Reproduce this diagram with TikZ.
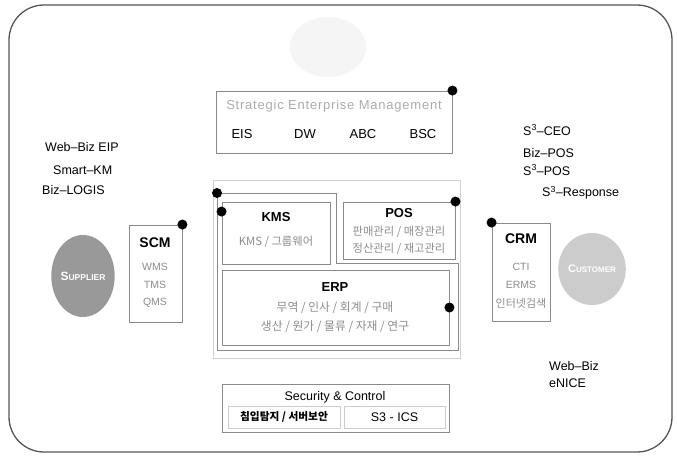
\documentclass[tikz,border=0pt]{standalone}
\usepackage{fontspec}
\setmainfont{Liberation Sans}
\newfontfamily\kr{Noto Sans CJK KR}
\usetikzlibrary{shapes.geometric}
\definecolor{frameline}{HTML}{555555}
\definecolor{boxline}{HTML}{8A8A8A}
\definecolor{softtext}{HTML}{8C8C8C}
\definecolor{paletext}{HTML}{ABABAB}
\tikzset{
  box/.style={draw=boxline, line width=0.9pt, inner sep=0pt},
  dot/.style={circle, fill=black, inner sep=0pt, minimum size=10pt},
  head/.style={font=\bfseries\fontsize{13}{15}\selectfont},
  item/.style={text=softtext, font=\fontsize{10.5}{12}\selectfont},
  kritem/.style={text=softtext, font=\kr\fontsize{11.3}{13}\selectfont},
  side/.style={anchor=west, inner sep=0pt, font=\fontsize{12.5}{14}\selectfont},
  party/.style={ellipse, inner sep=0pt, text=white, font=\bfseries}
}
\begin{document}
\begin{tikzpicture}[x=1pt, y=-1pt]
\useasboundingbox (0,0) rectangle (677,455);
\draw[frameline, line width=1.3pt, rounded corners=35pt] (9,5) rectangle (672,452);
% top management
\node[ellipse, fill=black!4, minimum width=76, minimum height=60] (top) at (328,47) {};
\node[box, minimum width=236, minimum height=62] (sem) at (334,122) {};
\node[text=paletext, font=\fontsize{13}{15}\selectfont\addfontfeature{LetterSpace=6}] (semtitle) at (334,106) {Strategic Enterprise Management};
\node[font=\fontsize{13}{15}\selectfont] (eis) at (242,134) {EIS};
\node[font=\fontsize{13}{15}\selectfont] (dw) at (305,134) {DW};
\node[font=\fontsize{13}{15}\selectfont] (abc) at (363,134) {ABC};
\node[font=\fontsize{13}{15}\selectfont] (bsc) at (423,134) {BSC};
\node[dot] (semdot) at (sem.north east) {};
% core systems
\draw[black!18] (213,180) rectangle (460,358);
\draw[boxline, line width=0.9pt] (217,193) coordinate (core) -- (336,193) -- (336,263) -- (458,263) -- (458,350) -- (217,350) -- cycle;
\node[dot] (coredot) at (core) {};
\node[box, minimum width=108, minimum height=62] (kms) at (276,233) {};
\node[head] (kmstitle) at (276,217) {KMS};
\node[kritem] (kmsa) at (276,242) {KMS / 그룹웨어};
\node[dot] (kmsdot) at ([yshift=-10pt]kms.north west) {};
\node[box, minimum width=112, minimum height=57] (pos) at (399,230.5) {};
\node[head] (postitle) at (399,213) {POS};
\node[kritem] (posa) at (399,232) {판매관리 / 매장관리};
\node[kritem] (posb) at (399,249) {정산관리 / 재고관리};
\node[dot] (posdot) at (pos.north east) {};
\node[box, minimum width=227, minimum height=75] (erp) at (335.5,307.5) {};
\node[head] (erptitle) at (335,287) {ERP};
\node[kritem, font=\kr\fontsize{11.8}{13}\selectfont] (erpa) at (335,308) {무역 / 인사 / 회계 / 구매};
\node[kritem, font=\kr\fontsize{11.8}{13}\selectfont] (erpb) at (335,327) {생산 / 원가 / 물류 / 자재 / 연구};
\node[dot] (erpdot) at (erp.east) {};
% supplier side
\node[party, fill=black!40, minimum width=60, minimum height=82] (supplier) at (83,276)
  {{\fontsize{12}{14}\selectfont S}{\fontsize{8.5}{10}\selectfont UPPLIER}};
\node[box, minimum width=53, minimum height=97] (scm) at (155.5,273.5) {};
\node[head, font=\bfseries\fontsize{14}{16}\selectfont] (scmtitle) at (155,243) {SCM};
\node[item] (wms) at (155,267) {WMS};
\node[item] (tms) at (155,285) {TMS};
\node[item] (qms) at (155,303) {QMS};
\node[dot] (scmdot) at (scm.north east) {};
\node[side] (webeip) at (45,147) {Web–Biz EIP};
\node[side] (smartkm) at (53,170) {Smart–KM};
\node[side] (logis) at (42,190) {Biz–LOGIS};
% customer side
\node[party, fill=black!20, minimum width=60, minimum height=72] (customer) at (592,269)
  {{\fontsize{11}{13}\selectfont C}{\fontsize{8}{10}\selectfont USTOMER}};
\node[box, minimum width=58, minimum height=98] (crm) at (521,272) {};
\node[head, font=\bfseries\fontsize{14}{16}\selectfont] (crmtitle) at (521,239) {CRM};
\node[item] (cti) at (521,267) {CTI};
\node[item] (erms) at (521,285) {ERMS};
\node[kritem, font=\kr\fontsize{11}{13}\selectfont] (search) at (521,303) {인터넷검색};
\node[dot] (crmdot) at (crm.north west) {};
\node[side] (ceo) at (523,130) {S\textsuperscript{3}–CEO};
\node[side] (bizpos) at (523,153) {Biz–POS};
\node[side] (s3pos) at (523,170) {S\textsuperscript{3}–POS};
\node[side] (response) at (542,193) {S\textsuperscript{3}–Response};
\node[side] (webbiz) at (549,366) {Web–Biz};
\node[side] (enice) at (549,383) {eNICE};
% security
\node[box, minimum width=227, minimum height=48] (sec) at (335.5,408) {};
\node[font=\fontsize{12.5}{14}\selectfont] (sectitle) at (335,397) {Security \& Control};
\node[draw=black!20, minimum width=112, minimum height=22, inner sep=0pt, font=\kr\bfseries\fontsize{10.7}{12}\selectfont] (intrusion) at (284,417) {침입탐지 / 서버보안};
\node[draw=black!20, minimum width=101, minimum height=22, inner sep=0pt, font=\fontsize{12.5}{14}\selectfont] (ics) at (394.5,417) {S3 - ICS};
\end{tikzpicture}
\end{document}
